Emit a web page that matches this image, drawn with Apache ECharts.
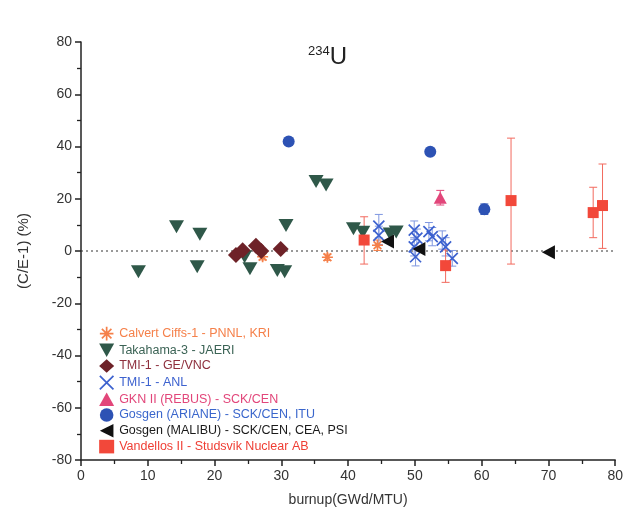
<!DOCTYPE html>
<html><head><meta charset="utf-8">
<script src="https://cdn.jsdelivr.net/npm/echarts@6/dist/echarts.min.js"></script>
<style>html,body{margin:0;padding:0;background:#fff}#c{width:626px;height:523px}</style>
</head><body><div id="c"></div>
<script>
// ---- data ----
const calvertX = [27.2, 36.9, 44.4];
const calvertY = [-2.2, -2.4, 2.2];
const calvertErr = [1.2, 1.2, 2.0];

const takahamaX = [8.6, 14.3, 17.4, 17.8, 24.5, 25.3, 29.4, 30.5, 30.7, 35.2, 36.7, 40.8, 42.2, 46.3, 47.2];
const takahamaY = [-7.9, 9.3, -6.0, 6.4, -2.2, -6.8, -7.5, -7.9, 9.8, 26.6, 25.3, 8.5, 7.2, 6.5, 7.3];

const tmiGeX = [23.2, 24.2, 26.2, 27.0, 29.9];
const tmiGeY = [-1.5, 0.3, 2.0, 0.0, 0.8];

const tmiAnlX = [44.6, 44.6, 49.9, 50.3, 49.9, 50.1, 52.1, 52.6, 54.1, 54.6, 55.6];
const tmiAnlY = [9.5, 6.0, 8.0, 4.9, 1.6, -2.2, 7.4, 5.5, 4.2, 1.6, -2.8];
const tmiAnlErr = [4.5, 3.5, 3.5, 3.5, 3.5, 3.5, 3.5, 3.5, 3.5, 3.5, 3.0];

const gknX = [53.8];
const gknY = [20.4];
const gknErr = [2.8];

const arianeX = [31.1, 52.3, 60.4];
const arianeY = [41.9, 38.0, 16.0];
const arianeErr = [0.8, 0.8, 2.0];

const malibuX = [45.9, 50.6, 70.0];
const malibuY = [3.6, 0.8, -0.5];

const vandX = [42.4, 54.6, 64.4, 76.7, 78.1];
const vandY = [4.2, -5.6, 19.3, 14.7, 17.4];
const vandLo = [-5.0, -12.0, -5.0, 5.1, 1.0];
const vandHi = [13.1, 0.4, 43.2, 24.4, 33.3];

const xTicks = [0, 10, 20, 30, 40, 50, 60, 70, 80];
const yTicks = [-80, -60, -40, -20, 0, 20, 40, 60, 80];

const names = [
  'Calvert Ciffs-1 - PNNL, KRI',
  'Takahama-3 - JAERI',
  'TMI-1 - GE/VNC',
  'TMI-1 - ANL',
  'GKN II (REBUS) - SCK/CEN',
  'Gosgen (ARIANE) - SCK/CEN, ITU',
  'Gosgen (MALIBU) - SCK/CEN, CEA, PSI',
  'Vandellos II - Studsvik Nuclear AB'
];
const colors = ['#f5804a', '#2f5849', '#6e2228', '#3d62cf', '#e2467a', '#2d52b4', '#111111', '#f2483a'];
const textColors = ['#f5804a', '#3b6355', '#8e2f3d', '#3d62cf', '#e2467a', '#3a66cc', '#1a1a1a', '#ef3e34'];

// ---- build ----
const zip = (xs, ys) => xs.map((x, i) => [x, ys[i]]);
const errData = (xs, ys, e) => xs.map((x, i) => [x, ys[i] - e[i], ys[i] + e[i]]);
const errData2 = (xs, lo, hi) => xs.map((x, i) => [x, lo[i], hi[i]]);

function errSeries(data, color) {
  return {
    type: 'custom', data: data, z: 1, silent: true,
    encode: { x: 0, y: [1, 2] },
    renderItem: function (params, api) {
      const x = api.value(0);
      const p1 = api.coord([x, api.value(1)]);
      const p2 = api.coord([x, api.value(2)]);
      const w = 4;
      const st = { stroke: color, lineWidth: 1 };
      return { type: 'group', children: [
        { type: 'line', shape: { x1: p1[0], y1: p1[1], x2: p2[0], y2: p2[1] }, style: st },
        { type: 'line', shape: { x1: p1[0] - w, y1: p1[1], x2: p1[0] + w, y2: p1[1] }, style: st },
        { type: 'line', shape: { x1: p2[0] - w, y1: p2[1], x2: p2[0] + w, y2: p2[1] }, style: st }
      ]};
    }
  };
}

const asterisk = 'path://M0,5L10,5M5,0L5,10M1.5,1.5L8.5,8.5M8.5,1.5L1.5,8.5';
const cross = 'path://M0,0L10,10M10,0L0,10';
const triDown = 'path://M0,0L10,0L5,9Z';
const triLeft = 'path://M10,0L10,10L0,5Z';
const triUp = 'path://M5,0L10,9L0,9Z';

const symbols = [asterisk, triDown, 'diamond', cross, triUp, 'circle', triLeft, 'rect'];
const sizes = [11, [15, 13], 16, 11, [13, 12], 12, [13, 14], 11];
const strokeOnly = [true, false, false, true, false, false, false, false];

const xsAll = [calvertX, takahamaX, tmiGeX, tmiAnlX, gknX, arianeX, malibuX, vandX];
const ysAll = [calvertY, takahamaY, tmiGeY, tmiAnlY, gknY, arianeY, malibuY, vandY];
const zAll = [3, 3, 4, 3, 3, 3, 5, 3];

const styleFor = (i) => strokeOnly[i]
  ? { color: 'rgba(0,0,0,0)', borderColor: colors[i], borderWidth: 1.7, opacity: 1 }
  : { color: colors[i], borderWidth: 0, opacity: 1 };

const series = names.map((n, i) => ({
  name: n, type: 'scatter', data: zip(xsAll[i], ysAll[i]), symbol: symbols[i], symbolSize: sizes[i], z: zAll[i],
  itemStyle: styleFor(i)
}));
series.push(
  errSeries(errData(calvertX, calvertY, calvertErr), colors[0]),
  errSeries(errData(tmiAnlX, tmiAnlY, tmiAnlErr), '#7f97e0'),
  errSeries(errData(gknX, gknY, gknErr), colors[4]),
  errSeries(errData(arianeX, arianeY, arianeErr), colors[5]),
  errSeries(errData2(vandX, vandLo, vandHi), '#f26a5e'),
  { type: 'line', data: [[xTicks[0], 0], [xTicks[xTicks.length - 1], 0]], symbol: 'none', silent: true, z: 0,
    lineStyle: { color: '#333', width: 1, type: [2, 3] } }
);

const chart = echarts.init(document.getElementById('c'), null, { renderer: 'canvas' });
chart.setOption({
  animation: false,
  backgroundColor: '#fff',
  title: {
    text: '{s|234}{u|U}', left: 303, top: 40,
    textStyle: { fontWeight: 'normal', rich: {
      s: { fontFamily: 'Liberation Sans', fontSize: 13, fontWeight: 'normal', color: '#222', verticalAlign: 'top', padding: [0, 0, 10, 0] },
      u: { fontFamily: 'Liberation Sans', fontSize: 24, fontWeight: 'normal', color: '#222' }
    } }
  },
  grid: { left: 81, right: 9, top: 42, bottom: 63, containLabel: false },
  legend: {
    orient: 'vertical', left: 94, top: 321, itemGap: 2.2, itemWidth: 15, itemHeight: 13.6,
    data: names.map((n, i) => ({
      name: n, icon: symbols[i],
      textStyle: { color: textColors[i] },
      itemStyle: strokeOnly[i]
        ? { color: 'rgba(0,0,0,0)', borderColor: colors[i], borderWidth: 1.7 }
        : { color: colors[i], borderWidth: 0 }
    })),
    textStyle: { fontFamily: 'Liberation Sans', fontSize: 12.5, padding: [0, 0, 0, 0] }
  },
  xAxis: {
    type: 'value', min: xTicks[0], max: xTicks[xTicks.length - 1], interval: 10,
    name: 'burnup(GWd/MTU)', nameLocation: 'middle', nameGap: 33,
    nameTextStyle: { fontFamily: 'Liberation Sans', fontSize: 14, color: '#333' },
    axisLine: { onZero: false, lineStyle: { color: '#222', width: 1.5 } },
    axisTick: { show: true, inside: false, length: 6, lineStyle: { color: '#222', width: 1.5 } },
    minorTick: { show: true, splitNumber: 2, length: 4, lineStyle: { color: '#222', width: 1.3 } },
    axisLabel: { fontFamily: 'Liberation Sans', fontSize: 14, color: '#333', margin: 9 },
    splitLine: { show: false }
  },
  yAxis: {
    type: 'value', min: yTicks[0], max: yTicks[yTicks.length - 1], interval: 20,
    name: '(C/E-1) (%)', nameLocation: 'middle', nameGap: 50, nameRotate: 90,
    nameTextStyle: { fontFamily: 'Liberation Sans', fontSize: 15, color: '#333' },
    axisLine: { onZero: false, lineStyle: { color: '#222', width: 1.5 } },
    axisTick: { show: true, inside: false, length: 6, lineStyle: { color: '#222', width: 1.5 } },
    minorTick: { show: true, splitNumber: 2, length: 4, lineStyle: { color: '#222', width: 1.3 } },
    axisLabel: { fontFamily: 'Liberation Sans', fontSize: 14, color: '#333', margin: 9 },
    splitLine: { show: false }
  },
  series: series
});
</script>
</body></html>
